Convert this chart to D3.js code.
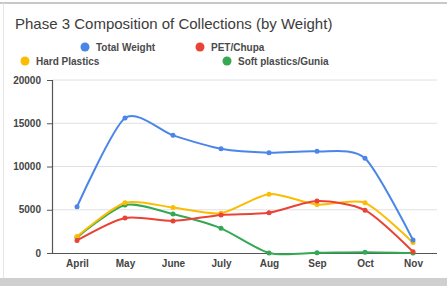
<!DOCTYPE html>
<html>
<head>
<meta charset="utf-8">
<script src="https://cdn.jsdelivr.net/npm/d3@7"></script>
<style>
  body { margin: 0; background: #fff; }
  svg { display: block; font-family: Arial, "Liberation Sans", sans-serif; }
</style>
</head>
<body>
<div id="chart"></div>
<script>
const months = ['April', 'May', 'June', 'July', 'Aug', 'Sep', 'Oct', 'Nov'];
const totalWeight = [5350, 15600, 13600, 12050, 11600, 11750, 10950, 1500];
const petChupa = [1450, 4050, 3700, 4400, 4650, 6000, 4950, 150];
const hardPlastics = [1900, 5800, 5250, 4600, 6800, 5600, 5800, 1200];
const softPlastics = [1800, 5550, 4500, 2850, 0, 20, 100, 0];
const yTicks = [0, 5000, 10000, 15000, 20000];

const series = [
  { name: 'Total Weight', values: totalWeight, color: '#4a86e8' },
  { name: 'PET/Chupa', values: petChupa, color: '#ea4335' },
  { name: 'Hard Plastics', values: hardPlastics, color: '#fbbc04' },
  { name: 'Soft plastics/Gunia', values: softPlastics, color: '#34a853' },
];

const W = 447, H = 286;
const svg = d3.select('#chart').append('svg').attr('width', W).attr('height', H);

// card frame
svg.append('rect').attr('x', 0).attr('y', 0).attr('width', W).attr('height', H).attr('fill', '#fff');
svg.append('rect').attr('x', 0).attr('y', 2).attr('width', W).attr('height', 2).attr('fill', '#c8c8c8');
svg.append('rect').attr('x', 3).attr('y', 3).attr('width', 1).attr('height', 275).attr('fill', '#e6e6e6');
svg.append('rect').attr('x', 0).attr('y', 278).attr('width', W).attr('height', 8).attr('fill', '#cfcfcf');

svg.append('text').attr('x', 15).attr('y', 29)
  .attr('font-size', 15).attr('fill', '#3c3c3c')
  .text('Phase 3 Composition of Collections (by Weight)');

// legend, two rows like the reference
const legendPos = [[85, 47], [200, 47], [25, 61], [227, 61]];
series.forEach((s, i) => {
  const [lx, ly] = legendPos[i];
  svg.append('circle').attr('cx', lx).attr('cy', ly).attr('r', 4.5).attr('fill', s.color);
  svg.append('text').attr('x', lx + 11).attr('y', ly + 3.5)
    .attr('font-size', 10).attr('font-weight', 'bold').attr('fill', '#4a4a4a')
    .text(s.name);
});

const x = d3.scalePoint().domain(months).range([77, 413]);
const y = d3.scaleLinear().domain([0, 20000]).range([253, 80]);

// gridlines
svg.append('g').selectAll('line').data(yTicks.filter(t => t > 0)).join('line')
  .attr('x1', 52).attr('x2', 437)
  .attr('y1', d => y(d)).attr('y2', d => y(d))
  .attr('stroke', '#e0e0e0').attr('stroke-width', 1);

const yAxis = svg.append('g').attr('transform', 'translate(52,0)')
  .call(d3.axisLeft(y).tickValues(yTicks).tickSize(5).tickPadding(6).tickFormat(d3.format('d')));
yAxis.select('.domain').attr('stroke', '#555').attr('stroke-width', 1.2);
yAxis.selectAll('.tick line').attr('stroke', '#555');
yAxis.selectAll('text').attr('font-size', 10).attr('font-weight', 'bold').attr('fill', '#444')
  .attr('font-family', 'Arial, "Liberation Sans", sans-serif');

const xAxis = svg.append('g').attr('transform', 'translate(0,253)')
  .call(d3.axisBottom(x).tickSize(0).tickPadding(7));
xAxis.select('.domain').remove();
xAxis.selectAll('text').attr('font-size', 10).attr('font-weight', 'bold').attr('fill', '#444')
  .attr('font-family', 'Arial, "Liberation Sans", sans-serif');
svg.append('line').attr('x1', 48).attr('x2', 437).attr('y1', 253.5).attr('y2', 253.5)
  .attr('stroke', '#555').attr('stroke-width', 1.2);

const line = d3.line()
  .x((d, i) => x(months[i]))
  .y(d => y(d))
  .curve(d3.curveCardinal.tension(0.25));

// draw in reverse so Total Weight sits on top
series.slice().reverse().forEach(s => {
  const g = svg.append('g');
  g.append('path').datum(s.values).attr('d', line)
    .attr('fill', 'none').attr('stroke', s.color).attr('stroke-width', 2);
  g.selectAll('circle').data(s.values).join('circle')
    .attr('cx', (d, i) => x(months[i])).attr('cy', d => y(d)).attr('r', 2.5)
    .attr('fill', s.color);
});
</script>
</body>
</html>
